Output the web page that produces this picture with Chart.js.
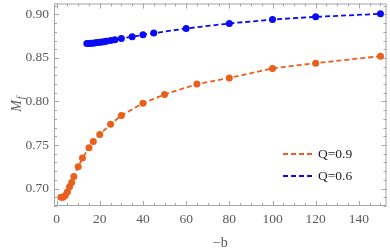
<!DOCTYPE html>
<html>
<head>
<meta charset="utf-8">
<script src="https://cdn.jsdelivr.net/npm/chart.js@4.4.1/dist/chart.umd.min.js"></script>
<style>
html,body{margin:0;padding:0;background:#fff;}
#wrap{position:relative;width:390px;height:252px;}
</style>
</head>
<body>
<div id="wrap"><canvas id="c" width="390" height="252"></canvas></div>
<script>
// Data
const bQ09 = [2, 3, 4, 5, 6, 7, 8, 10, 12, 15, 17, 20, 25, 30, 40, 50, 65, 80, 100, 120, 150];
const mQ09 = [0.690, 0.690, 0.692, 0.696, 0.702, 0.707, 0.714, 0.725, 0.735, 0.747, 0.754, 0.762, 0.774, 0.784, 0.798, 0.808, 0.820, 0.827, 0.838, 0.844, 0.852];
const bQ06 = [14, 15, 16, 17, 18, 19, 20, 21, 22, 23, 25, 27, 30, 35, 40, 45, 60, 80, 100, 120, 150];
const mQ06 = [0.8665, 0.8667, 0.8668, 0.8670, 0.8673, 0.8676, 0.8679, 0.8683, 0.8687, 0.8691, 0.8700, 0.8710, 0.8723, 0.8743, 0.8765, 0.8785, 0.8838, 0.8896, 0.8941, 0.8972, 0.9006];
const xTicks = [0, 20, 40, 60, 80, 100, 120, 140];
const yTicks = [0.70, 0.75, 0.80, 0.85, 0.90];
const seriesLabels = ['Q=0.9', 'Q=0.6'];
const xTitle = '\u2212b';

const ORANGE = 'rgb(232,96,28)';
const BLUE = 'rgb(10,10,245)';
const FRAME = '#a6a6a6';
const LABEL = '#5a5a5a';
const SERIF = '"Liberation Serif", "DejaVu Serif", serif';

function pts(xs, ys){ return xs.map((x,i)=>({x:x, y:ys[i]})); }

const framePlugin = {
  id: 'frame',
  beforeDatasetsDraw(chart){
    const {ctx, chartArea:a, scales} = chart;
    const xs = scales.x, ys = scales.y;
    ctx.save();
    ctx.strokeStyle = FRAME;
    ctx.lineWidth = 1;
    ctx.strokeRect(a.left+0.5, a.top+0.5, a.right-a.left-1, a.bottom-a.top-1);
    ctx.beginPath();
    for (let v = 0; v <= 150; v += 5) {
      const px = Math.round(xs.getPixelForValue(v)) + 0.5;
      const len = (v % 20 === 0) ? 5 : 3;
      ctx.moveTo(px, a.bottom); ctx.lineTo(px, a.bottom - len);
      ctx.moveTo(px, a.top); ctx.lineTo(px, a.top + len);
    }
    for (let k = 68; k <= 91; k++) {
      const v = k / 100;
      const py = Math.round(ys.getPixelForValue(v)) + 0.5;
      const len = (k % 5 === 0) ? 5 : 3;
      ctx.moveTo(a.left, py); ctx.lineTo(a.left + len, py);
      ctx.moveTo(a.right, py); ctx.lineTo(a.right - len, py);
    }
    ctx.stroke();
    ctx.restore();
  },
  afterDraw(chart){
    const {ctx, chartArea:a} = chart;
    ctx.save();
    ctx.translate(17, 104);
    ctx.rotate(-Math.PI/2);
    ctx.fillStyle = LABEL;
    ctx.textBaseline = 'alphabetic';
    ctx.textAlign = 'left';
    ctx.font = 'italic 14px ' + SERIF;
    const mw = ctx.measureText('M').width;
    ctx.fillText('M', -mw/2 - 2, 4);
    ctx.font = 'italic 10px ' + SERIF;
    ctx.fillText('f', mw/2 - 1, 7);
    ctx.restore();

    ctx.save();
    ctx.fillStyle = LABEL;
    ctx.font = '14px ' + SERIF;
    ctx.textAlign = 'center';
    ctx.textBaseline = 'middle';
    ctx.fillText(xTitle, (a.left + a.right)/2, 243);
    ctx.restore();

    ctx.save();
    const colors = [ORANGE, BLUE];
    const ys0 = [154, 176];
    ctx.lineWidth = 1.8;
    ctx.setLineDash([5, 3]);
    for (let i = 0; i < 2; i++) {
      ctx.strokeStyle = colors[i];
      ctx.beginPath();
      ctx.moveTo(283, ys0[i]); ctx.lineTo(313, ys0[i]);
      ctx.stroke();
    }
    ctx.setLineDash([]);
    ctx.fillStyle = '#222';
    ctx.font = '13.5px ' + SERIF;
    ctx.textAlign = 'left';
    ctx.textBaseline = 'middle';
    for (let i = 0; i < 2; i++) ctx.fillText(seriesLabels[i], 318, ys0[i]);
    ctx.restore();
  }
};

new Chart(document.getElementById('c'), {
  type: 'scatter',
  data: {
    datasets: [
      { label: seriesLabels[0], data: pts(bQ09, mQ09), showLine: true, borderColor: ORANGE, backgroundColor: ORANGE,
        borderWidth: 1.8, borderDash: [5, 3], pointRadius: 3.5, pointHoverRadius: 3.5, pointBorderWidth: 0 },
      { label: seriesLabels[1], data: pts(bQ06, mQ06), showLine: true, borderColor: BLUE, backgroundColor: BLUE,
        borderWidth: 1.8, borderDash: [5, 3], pointRadius: 3.5, pointHoverRadius: 3.5, pointBorderWidth: 0 }
    ]
  },
  options: {
    responsive: false,
    animation: false,
    events: [],
    layout: { padding: { top: 1, right: 2, left: 0, bottom: 0 } },
    plugins: { legend: { display: false }, tooltip: { enabled: false } },
    scales: {
      x: {
        type: 'linear', min: -1.2, max: 152.8,
        grid: { display: false, drawTicks: false },
        border: { display: false },
        afterBuildTicks(s){ s.ticks = xTicks.map(v=>({value:v})); },
        afterFit(s){ s.height = 46; s.paddingLeft = 0; s.paddingRight = 0; },
        ticks: { color: LABEL, padding: 5, font: { family: SERIF, size: 13.5 }, maxRotation: 0, autoSkip: false }
      },
      y: {
        type: 'linear', min: 0.68, max: 0.9125,
        grid: { display: false, drawTicks: false },
        border: { display: false },
        afterBuildTicks(s){ s.ticks = yTicks.map(v=>({value:v})); },
        afterFit(s){ s.width = 54; s.paddingTop = 0; s.paddingBottom = 0; },
        ticks: { color: LABEL, padding: 5, font: { family: SERIF, size: 13.5 }, autoSkip: false,
          callback: v => v.toFixed(2) }
      }
    }
  },
  plugins: [framePlugin]
});
</script>
</body>
</html>
